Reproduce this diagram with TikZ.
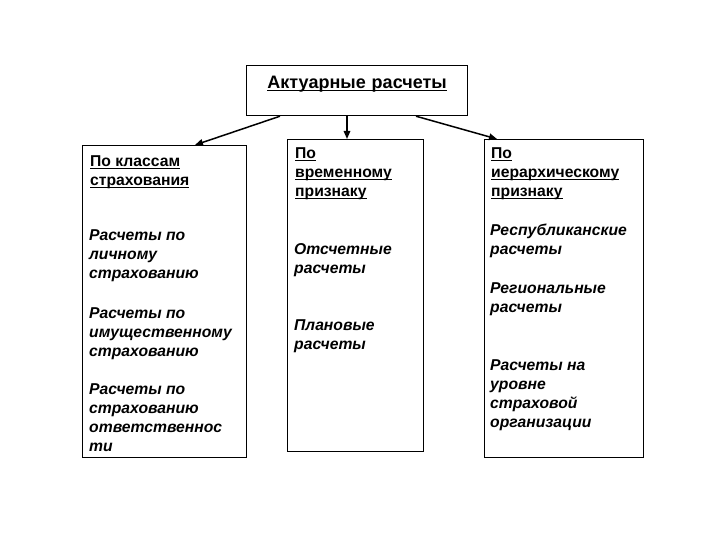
\documentclass[tikz,border=0pt]{standalone}
\usepackage{fontspec}
\setmainfont{Liberation Sans}
\usetikzlibrary{arrows.meta, positioning}
\newsavebox{\ulinebox}
\newcommand{\ulined}[1]{\sbox{\ulinebox}{#1}\rlap{\rule[-2.6pt]{\wd\ulinebox}{1.1pt}}\usebox{\ulinebox}}
\tikzset{
    headbox/.style={rectangle, draw=black, line width=1.2pt, inner sep=0pt, anchor=north west,
                    text width=221pt, align=center, text height=23pt, text depth=27pt,
                    font=\fontsize{18}{21}\selectfont\bfseries},
    colbox/.style={rectangle, draw=black, line width=1.2pt, inner sep=0pt, anchor=north west},
    headtext/.style={anchor=north west, inner sep=0pt, align=left, font=\fontsize{15.7}{19}\selectfont\bfseries},
    itemtext/.style={anchor=north west, inner sep=0pt, align=left, font=\fontsize{15.7}{19}\selectfont\bfseries\itshape},
    arrow/.style={-{Triangle[length=8pt, width=6.5pt]}, line width=1.5pt},
}
\begin{document}
\begin{tikzpicture}[x=1pt, y=-1pt]
    \useasboundingbox (0,0) rectangle (720,540);
    % Top box
    \node[headbox] (top) at (246,65) {\ulined{Актуарные расчеты}};

    % Column boxes
    \node[colbox, minimum width=164pt, minimum height=312pt] (cls) at (82,145) {};
    \node[colbox, minimum width=136pt, minimum height=312pt] (time) at (287,139) {};
    \node[colbox, minimum width=159pt, minimum height=318pt] (hier) at (484,139) {};

    \draw[arrow] ([xshift=34pt]top.south west) -- ([xshift=113pt]cls.north west);
    \draw[arrow] ([xshift=101pt]top.south west) -- ([xshift=60pt]time.north west);
    \draw[arrow] ([xshift=170pt]top.south west) -- ([xshift=13pt]hier.north west);

    % By insurance classes
    \node[headtext] (clsHead) at (90,152.7) {\strut\ulined{По классам}\\\ulined{страхования}};
    \node[itemtext] (clsPers) at (89,226.7) {\strut Расчеты по\\личному\\страхованию};
    \node[itemtext] (clsProp) at (89,304.7) {\strut Расчеты по\\имущественному\\страхованию};
    \node[itemtext] (clsLiab) at (89,380.7) {\strut Расчеты по\\страхованию\\ответственнос\\ти};

    % By time
    \node[headtext] (timeHead) at (295,144.7) {\strut\ulined{По}\\\ulined{временному}\\\ulined{признаку}};
    \node[itemtext] (timeRep) at (294,240.7) {\strut Отсчетные\\расчеты};
    \node[itemtext] (timePlan) at (294,316.7) {\strut Плановые\\расчеты};

    % By hierarchy
    \node[headtext] (hierHead) at (491,144.7) {\strut\ulined{По}\\\ulined{иерархическому}\\\ulined{признаку}};
    \node[itemtext] (hierRep) at (490,221.7) {\strut Республиканские\\расчеты};
    \node[itemtext] (hierReg) at (490,279.7) {\strut Региональные\\расчеты};
    \node[itemtext] (hierOrg) at (490,356.7) {\strut Расчеты на\\уровне\\страховой\\организации};
\end{tikzpicture}
\end{document}
